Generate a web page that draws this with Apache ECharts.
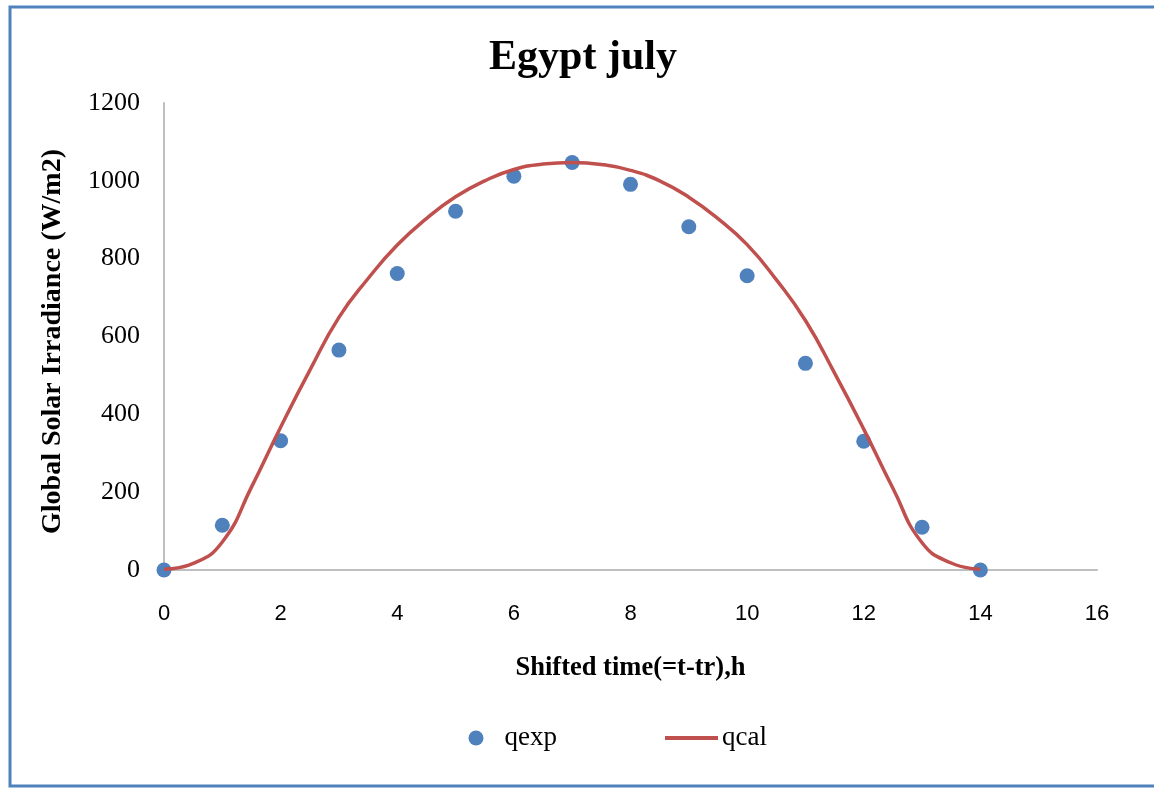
<!DOCTYPE html>
<html>
<head>
<meta charset="utf-8">
<script src="https://cdn.jsdelivr.net/npm/echarts@6/dist/echarts.min.js"></script>
<style>
html,body{margin:0;padding:0;background:#fff;}
#chart{width:1154px;height:789px;}
</style>
</head>
<body>
<div id="chart"></div>
<script>
// Experimental points (hour, W/m2)
var expHours = [0, 1, 2, 3, 4, 5, 6, 7, 8, 9, 10, 11, 12, 13, 14];
var qexp = [0, 115, 332, 565, 762, 922, 1012, 1047, 991, 882, 756, 531, 331, 110, 0];
// Calculated curve (hour, W/m2)
var calHours = [0, 0.5, 1, 1.5, 2, 2.5, 3, 3.5, 4, 4.5, 5, 5.5, 6, 6.5, 7, 7.5, 8, 8.5, 9, 9.5, 10, 10.5, 11, 11.5, 12, 12.5, 13, 13.5, 14];
var qcal = [2, 17, 72, 213, 367, 513, 649, 749, 835, 903, 959, 1000, 1029, 1043, 1047, 1042, 1027, 1000, 958, 903, 836, 746, 641, 506, 362, 210, 70, 18, 2];
var xTicks = [0, 2, 4, 6, 8, 10, 12, 14, 16];
var yTicks = [0, 200, 400, 600, 800, 1000, 1200];

var serif = '"Liberation Serif", "Times New Roman", serif';
var chart = echarts.init(document.getElementById('chart'));
chart.setOption({
  animation: false,
  backgroundColor: '#fff',
  title: {
    text: 'Egypt july',
    left: 578,
    top: 32,
    textAlign: 'center',
    textStyle: {fontFamily: serif, fontWeight: 'bold', fontSize: 42, color: '#000'}
  },
  graphic: [{
    type: 'rect',
    shape: {x: 10, y: 7, width: 1160, height: 779},
    style: {fill: 'none', stroke: '#4F81BD', lineWidth: 3},
    silent: true
  }],
  legend: [{
    data: [{name: 'qexp', icon: 'circle'}],
    left: 468.5, top: 724.5, padding: 0,
    itemWidth: 15, itemHeight: 15,
    textStyle: {fontFamily: serif, fontSize: 27, color: '#000', padding: [0, 0, 0, 16]}
  }, {
    data: [{name: 'qcal', icon: 'rect'}],
    left: 665, top: 724.5, padding: 0,
    itemWidth: 53, itemHeight: 4,
    textStyle: {fontFamily: serif, fontSize: 27, color: '#000', padding: [0, 0, 0, -1]}
  }],
  grid: {left: 164, right: 57, top: 103, bottom: 219, containLabel: false},
  xAxis: {
    type: 'value', min: 0, max: 16, interval: 2,
    name: 'Shifted time(=t-tr),h',
    nameLocation: 'middle', nameGap: 85,
    nameTextStyle: {fontFamily: serif, fontWeight: 'bold', fontSize: 26.5, color: '#000'},
    axisLine: {show: true, lineStyle: {color: '#BFBFBF', width: 2}},
    axisTick: {show: false},
    splitLine: {show: false},
    axisLabel: {margin: 33, fontFamily: '"Liberation Sans", Arial, sans-serif', fontSize: 22, color: '#000',
      formatter: function (v) { return xTicks.indexOf(v) >= 0 ? String(v) : ''; }}
  },
  yAxis: {
    type: 'value', min: 0, max: 1200, interval: 200,
    name: 'Global Solar Irradiance (W/m2)',
    nameLocation: 'middle', nameGap: 97, nameRotate: 90,
    nameTextStyle: {fontFamily: serif, fontWeight: 'bold', fontSize: 28, color: '#000', padding: [0, 10, 0, 0]},
    axisLine: {show: true, lineStyle: {color: '#BFBFBF', width: 2}},
    axisTick: {show: false},
    splitLine: {show: false},
    axisLabel: {margin: 24, fontFamily: serif, fontSize: 26, color: '#000',
      formatter: function (v) { return yTicks.indexOf(v) >= 0 ? String(v) : ''; }}
  },
  series: [{
    name: 'qcal',
    type: 'line',
    smooth: 0.5,
    showSymbol: false,
    symbol: 'none',
    data: calHours.map(function (h, i) { return [h, qcal[i]]; }),
    lineStyle: {color: '#C0504D', width: 3.5},
    itemStyle: {color: '#C0504D'},
    z: 3
  }, {
    name: 'qexp',
    type: 'scatter',
    symbol: 'circle',
    symbolSize: 15,
    data: expHours.map(function (h, i) { return [h, qexp[i]]; }),
    itemStyle: {color: '#4F81BD', opacity: 1},
    z: 2
  }]
});
</script>
</body>
</html>
